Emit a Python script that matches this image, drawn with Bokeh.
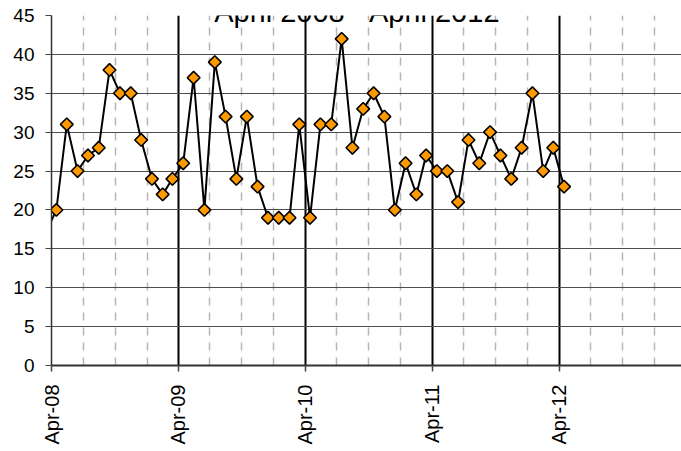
import calendar
from datetime import datetime
from math import pi

from bokeh.plotting import figure
from bokeh.models import Range1d, FixedTicker, Label
from bokeh.embed import file_html
from bokeh.resources import INLINE

# ---- data -------------------------------------------------------------
title_text = "April 2008 - April 2012"
first_year, first_month = 2008, 3          # first (off-axis) monthly value: Mar 2008
values = [17,
          20, 31, 25, 27, 28, 38, 35, 35, 29, 24, 22, 24,
          26, 37, 20, 39, 32, 24, 32, 23, 19, 19, 19, 31,
          19, 31, 31, 42, 28, 33, 35, 32, 20, 26, 22, 27,
          25, 25, 21, 29, 26, 30, 27, 24, 28, 35, 25, 28,
          23]
tick_years = [2008, 2009, 2010, 2011, 2012]
tick_labels = ["Apr-08", "Apr-09", "Apr-10", "Apr-11", "Apr-12"]
y_ticks = [0, 5, 10, 15, 20, 25, 30, 35, 40, 45]


def ms(dt):
    return calendar.timegm(dt.timetuple()) * 1000


dates = []
yr, mo = first_year, first_month
for _ in values:
    dates.append(datetime(yr, mo, 15))
    mo += 1
    if mo > 12:
        mo, yr = 1, yr + 1

major_ticks = [ms(datetime(y, 4, 1)) for y in tick_years]
minor_ticks = []
for y in tick_years:
    minor_ticks += [ms(datetime(y, 7, 1)), ms(datetime(y, 10, 1)), ms(datetime(y + 1, 1, 1))]

FONT = "Liberation Sans"

p = figure(width=681, height=451, x_axis_type="datetime",
           x_range=Range1d(datetime(2008, 4, 1), datetime(2013, 3, 19)),
           y_range=Range1d(0, 45),
           output_backend="svg", toolbar_location=None,
           min_border_left=51, min_border_right=0, min_border_top=15, min_border_bottom=86)
p.outline_line_color = None
p.background_fill_color = "white"
p.border_fill_color = "white"

xt = FixedTicker(ticks=major_ticks, minor_ticks=minor_ticks)
yt = FixedTicker(ticks=y_ticks, minor_ticks=[])
p.xaxis.ticker = xt
p.xgrid.ticker = xt
p.yaxis.ticker = yt
p.ygrid.ticker = yt

p.xgrid.grid_line_color = "black"
p.xgrid.grid_line_width = 2
p.xgrid.minor_grid_line_color = "#b5b5b5"
p.xgrid.minor_grid_line_dash = "8 7"
p.xgrid.minor_grid_line_width = 1.5

p.ygrid.grid_line_color = "#4d4d4d"
p.ygrid.grid_line_width = 1

p.xaxis.major_label_overrides = {t: l for t, l in zip(major_ticks, tick_labels)}
p.xaxis.major_label_orientation = pi / 2
p.xaxis.axis_line_color = "#333333"
p.xaxis.axis_line_width = 2
p.xaxis.major_tick_out = 6
p.xaxis.major_tick_in = 0
p.xaxis.major_tick_line_color = "#444444"
p.xaxis.major_tick_line_width = 1.5
p.xaxis.minor_tick_line_color = None
p.xaxis.major_label_standoff = 13

p.yaxis.axis_line_color = "#333333"
p.yaxis.axis_line_width = 1.5
p.yaxis.major_tick_out = 6
p.yaxis.major_tick_in = 0
p.yaxis.major_tick_line_color = "#444444"
p.yaxis.minor_tick_line_color = None
p.yaxis.major_label_standoff = 11

for ax in (p.xaxis, p.yaxis):
    ax.major_label_text_font = FONT
    ax.major_label_text_color = "black"
p.yaxis.major_label_text_font_size = "19px"
p.xaxis.major_label_text_font_size = "20px"

p.line(dates, values, line_color="black", line_width=2)
p.scatter(dates[1:], values[1:], marker="square", angle=pi / 4, size=9,
          fill_color="#FF9900", line_color="black", line_width=1.6)

p.add_layout(Label(x=ms(datetime(2010, 8, 30)), y=45.39, text=title_text,
                   text_align="center", text_baseline="alphabetic",
                   text_font=FONT, text_font_size="29px", text_color="black"))

open("out.html", "w").write(file_html(p, INLINE))
